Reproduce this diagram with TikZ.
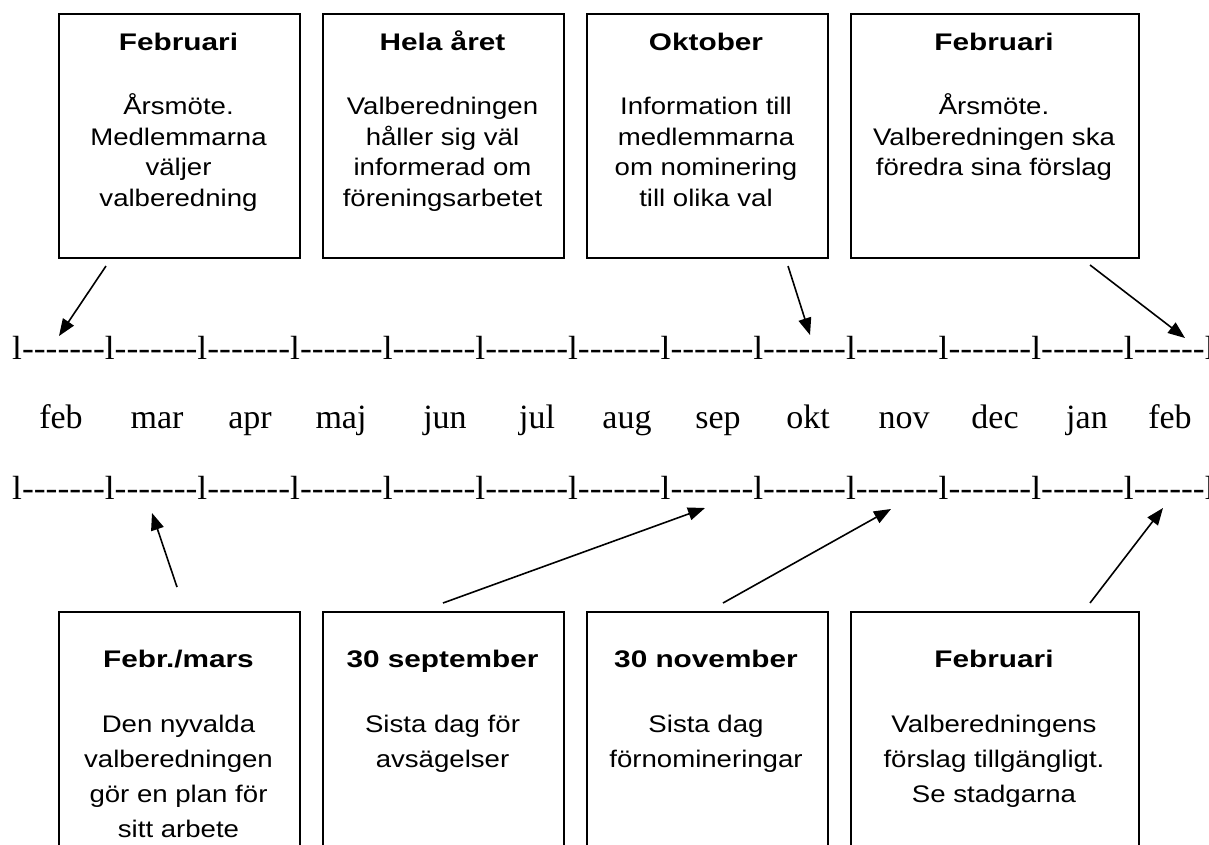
\documentclass[tikz,border=0pt]{standalone}
\usepackage{fontspec}
\newfontfamily\boxfont{Liberation Sans}[FakeStretch=1.15]
\newfontfamily\headfont{Liberation Sans Bold}[FakeStretch=1.24]
\newfontfamily\tlfont{Liberation Serif}[FakeStretch=1.06]
\newfontfamily\monthfont{Liberation Serif}
\usetikzlibrary{arrows.meta}
\begin{document}
\begin{tikzpicture}[x=1pt,y=-1pt,
  evbox/.style={draw=black, line width=1.8pt, anchor=north west, minimum width=241pt, inner sep=0pt},
  head/.style={anchor=base, inner sep=0pt, font=\headfont\fontsize{24}{31.5}\selectfont},
  bodytop/.style={anchor=base, inner sep=0pt, align=center, font=\boxfont\fontsize{24}{30.5}\selectfont},
  bodybot/.style={anchor=base, inner sep=0pt, align=center, font=\boxfont\fontsize{24}{35}\selectfont},
  tl/.style={anchor=base west, inner sep=0pt, font=\tlfont\fontsize{33.5}{40}\selectfont},
  mon/.style={anchor=base, inner sep=0pt, font=\monthfont\fontsize{34}{40}\selectfont},
  arr/.style={-{Triangle[length=17pt,width=13pt]}, line width=1.6pt}
]
\useasboundingbox (0,0) rectangle (1209,845);
\fill[white] (0,0) rectangle (1209,845);
% top boxes
\node[evbox, minimum height=244pt] (t1) at (58,13) {};
\node[evbox, minimum height=244pt] (t2) at (322,13) {};
\node[evbox, minimum height=244pt] (t3) at (586,13) {};
\node[evbox, minimum height=244pt, minimum width=288pt] (t4) at (850,13) {};
\node[head] (t1h) at (178.5,51) {Februari};
\node[head] (t2h) at (442.5,51) {Hela året};
\node[head] (t3h) at (706,51) {Oktober};
\node[head] (t4h) at (994,51) {Februari};
% base anchor of a multi-line node = baseline of its last line
\node[bodytop] (t1b) at (178.5,206.5) {Årsmöte.\\Medlemmarna\\väljer\\valberedning};
\node[bodytop] (t2b) at (442.5,206.5) {Valberedningen\\håller sig väl\\informerad om\\föreningsarbetet};
\node[bodytop] (t3b) at (706,206.5) {Information till\\medlemmarna\\om nominering\\till olika val};
\node[bodytop] (t4b) at (994,176) {Årsmöte.\\Valberedningen ska\\föredra sina förslag};
% bottom boxes
\node[evbox, minimum height=260pt] (u1) at (58,611) {};
\node[evbox, minimum height=260pt] (u2) at (322,611) {};
\node[evbox, minimum height=260pt] (u3) at (586,611) {};
\node[evbox, minimum height=260pt, minimum width=288pt] (u4) at (850,611) {};
\node[head] (u1h) at (178.5,667) {Febr./mars};
\node[head] (u2h) at (442.5,667) {30 september};
\node[head] (u3h) at (706,667) {30 november};
\node[head] (u4h) at (994,667) {Februari};
\node[bodybot] (u1b) at (178.5,837) {Den nyvalda\\valberedningen\\gör en plan för\\sitt arbete};
\node[bodybot] (u2b) at (442.5,767) {Sista dag för\\avsägelser};
\node[bodybot] (u3b) at (706,767) {Sista dag\\förnomineringar};
\node[bodybot] (u4b) at (994,802) {Valberedningens\\förslag tillgängligt.\\Se stadgarna};
% timeline
\node[tl] (row1) at (12,359) {l-------l-------l-------l-------l-------l-------l-------l-------l-------l-------l-------l-------l------l};
\node[tl] (row3) at (12,499) {l-------l-------l-------l-------l-------l-------l-------l-------l-------l-------l-------l-------l------l};
\foreach \m/\x [count=\i] in {feb/61,mar/157,apr/250,maj/341,jun/445,jul/537,aug/627,sep/718,okt/808,nov/904,dec/995,jan/1087,feb/1170}
  \node[mon] (m\i) at (\x,428) {\m};
% arrow end points
\coordinate (s1) at (106,266); \coordinate (e1) at (59,336);
\coordinate (s2) at (788,266); \coordinate (e2) at (810,335);
\coordinate (s3) at (1090,265); \coordinate (e3) at (1185,338);
\coordinate (s4) at (177,587); \coordinate (e4) at (152,513);
\coordinate (s5) at (443,603); \coordinate (e5) at (705,508);
\coordinate (s6) at (723,603); \coordinate (e6) at (891,509);
\coordinate (s7) at (1090,603); \coordinate (e7) at (1163,508);
\foreach \k in {1,...,7} \draw[arr] (s\k) -- (e\k);
\end{tikzpicture}
\end{document}
